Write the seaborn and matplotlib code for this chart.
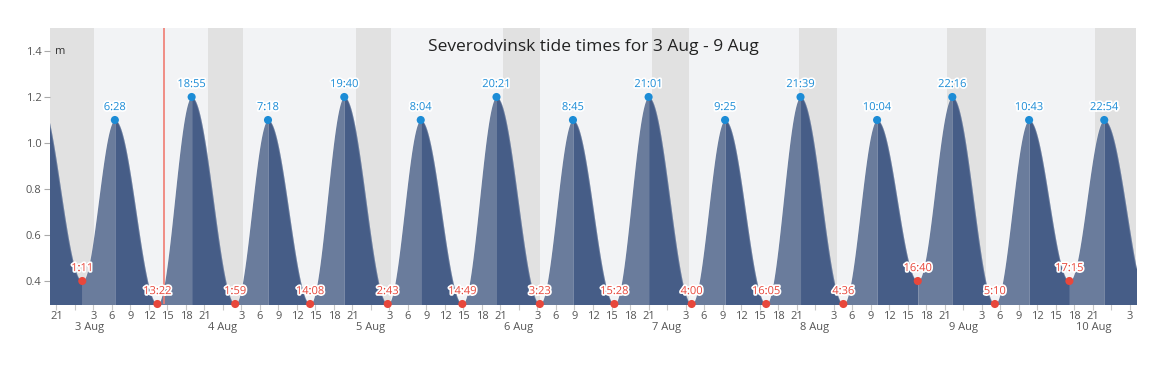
import numpy as np
import pandas as pd
import matplotlib
matplotlib.use("Agg")
import matplotlib.pyplot as plt
import matplotlib.patheffects as pe
import seaborn as sns

# ── Data ─────────────────────────────────────────────
# tide extremes (first and last are just outside the visible window)
tide_times = [
    "08-02 18:10",
    "08-03 01:11", "08-03 06:28", "08-03 13:22", "08-03 18:55",
    "08-04 01:59", "08-04 07:18", "08-04 14:08", "08-04 19:40",
    "08-05 02:43", "08-05 08:04", "08-05 14:49", "08-05 20:21",
    "08-06 03:23", "08-06 08:45", "08-06 15:28", "08-06 21:01",
    "08-07 04:00", "08-07 09:25", "08-07 16:05", "08-07 21:39",
    "08-08 04:36", "08-08 10:04", "08-08 16:40", "08-08 22:16",
    "08-09 05:10", "08-09 10:43", "08-09 17:15", "08-09 22:54",
    "08-10 06:15",
]
tide_heights = [
    1.2,
    0.4, 1.1, 0.3, 1.2,
    0.3, 1.1, 0.3, 1.2,
    0.3, 1.1, 0.3, 1.2,
    0.3, 1.1, 0.3, 1.2,
    0.3, 1.1, 0.3, 1.2,
    0.3, 1.1, 0.4, 1.2,
    0.3, 1.1, 0.4, 1.1,
    0.3,
]
sunrises = ["08-03 03:05", "08-04 03:14", "08-05 03:14", "08-06 03:24",
            "08-07 03:34", "08-08 03:34", "08-09 03:43"]
sunsets = ["08-03 21:34", "08-04 21:34", "08-05 21:24", "08-06 21:34",
           "08-07 21:24", "08-08 21:24", "08-09 21:24"]
now_time = "08-03 14:26"
day_labels = ["3 Aug", "4 Aug", "5 Aug", "6 Aug", "7 Aug", "8 Aug", "9 Aug", "10 Aug"]

T0 = pd.Timestamp("2024-08-03 00:00")


def to_hours(stamps):
    t = pd.to_datetime(["2024-" + s for s in stamps])
    return np.asarray((t - T0) / pd.Timedelta(hours=1), dtype=float)


ext_x = to_hours(tide_times)
ext_y = np.array(tide_heights)
rise_x = to_hours(sunrises)
set_x = to_hours(sunsets)
now_x = to_hours([now_time])[0]

X_MIN, X_MAX = -4.05, 172.05
Y_MIN, Y_MAX = 0.3, 1.5

# ── Style ────────────────────────────────────────────
sns.set_theme(style="white")
plt.rcParams["font.family"] = ["Open Sans", "DejaVu Sans"]

DAY_BG = "#f2f3f5"
NIGHT_BG = "#e1e1e1"
RISE_C = "#6a7c9c"
FALL_C = "#465d87"
HIGH_C = "#1c8cd6"
LOW_C = "#e8473b"
TICK_C = "#555555"

fig = plt.figure(figsize=(11.66, 3.66), dpi=100)
ax = fig.add_axes([50 / 1166, 1 - 304 / 366, 1086 / 1166, 276 / 366])
ax.set_facecolor(DAY_BG)
for s in ax.spines.values():
    s.set_visible(False)

# night bands
nights = [(X_MIN - 1, rise_x[0])] + list(zip(set_x, list(rise_x[1:]) + [X_MAX + 1]))
for a, b in nights:
    ax.axvspan(a, b, color=NIGHT_BG, lw=0, zorder=0)

# tide curve, cosine between successive extremes
for i in range(len(ext_x) - 1):
    xa, xb = ext_x[i], ext_x[i + 1]
    ya, yb = ext_y[i], ext_y[i + 1]
    xs = np.linspace(xa, xb, 80)
    f = (xs - xa) / (xb - xa)
    ys = yb + (ya - yb) * (1 + np.cos(np.pi * f)) / 2
    col = RISE_C if yb > ya else FALL_C
    ax.fill_between(xs, Y_MIN - 0.1, ys, color=col, lw=0, zorder=2)
    sns.lineplot(x=xs, y=ys, color="white", alpha=0.2, lw=0.7, ax=ax, zorder=3)

# current time marker
ax.axvline(now_x, color="#f07b72", lw=1.2, zorder=4)

# extremes inside the window
ext = pd.DataFrame({"x": ext_x[1:-1], "y": ext_y[1:-1],
                    "label": [s.split(" ")[1].lstrip("0") for s in tide_times[1:-1]]})
ext["label"] = ext["label"].str.replace(r"^:", "0:", regex=True)
ext["kind"] = ["high" if ext_y[i + 1] > max(ext_y[i], ext_y[i + 2]) else "low"
               for i in range(len(ext))]

sns.scatterplot(data=ext, x="x", y="y", hue="kind",
                palette={"high": HIGH_C, "low": LOW_C},
                s=34, edgecolor="none", legend=False, ax=ax, zorder=6, clip_on=False)

halo = [pe.withStroke(linewidth=2.5, foreground="white")]
for _, r in ext.iterrows():
    c = HIGH_C if r["kind"] == "high" else LOW_C
    ax.annotate(r["label"], (r["x"], r["y"]), xytext=(0, 5), textcoords="offset points",
                ha="center", va="bottom", fontsize=8, color=c,
                path_effects=halo, zorder=7)

# axes
ax.set_xlim(X_MIN, X_MAX)
ax.set_ylim(Y_MIN, Y_MAX)
ax.set_yticks([0.4, 0.6, 0.8, 1.0, 1.2, 1.4])
ax.set_yticklabels(["0.4", "0.6", "0.8", "1.0", "1.2", "1.4"])
ax.tick_params(axis="y", length=4, width=0.8, color="#aaaaaa", labelsize=8,
               labelcolor=TICK_C, pad=2, left=True)
ax.text(0.005, 1.4, "m", transform=ax.get_yaxis_transform(), fontsize=8,
        color="#333333", va="center", ha="left")

hours = np.arange(-3, 172, 3)
ax.set_xticks(hours)
ax.set_xticklabels(["" if h % 24 == 0 else str(int(h % 24)) for h in hours])
ax.tick_params(axis="x", length=4, width=0.8, color="#c8c8c8", labelsize=8,
               labelcolor=TICK_C, pad=1, bottom=True)
midnights = np.arange(0, 172, 24)
ax.set_xticks(midnights, minor=True)
ax.tick_params(axis="x", which="minor", length=15, width=1.5, color="#d2d2d2", bottom=True)

for i, (m, lab) in enumerate(zip(midnights, day_labels)):
    ha = "left" if i == 0 else ("right" if i == len(midnights) - 1 else "center")
    ax.text(m, -0.085, lab, transform=ax.get_xaxis_transform(), ha=ha, va="center",
            fontsize=8, color=TICK_C)

ax.text(0.5, 0.93, "Severodvinsk tide times for 3 Aug - 9 Aug", transform=ax.transAxes,
        ha="center", va="center", fontsize=12.5, color="#222222", zorder=8)
ax.set_xlabel("")
ax.set_ylabel("")

fig.savefig("out.png", dpi=100)
plt.close(fig)
